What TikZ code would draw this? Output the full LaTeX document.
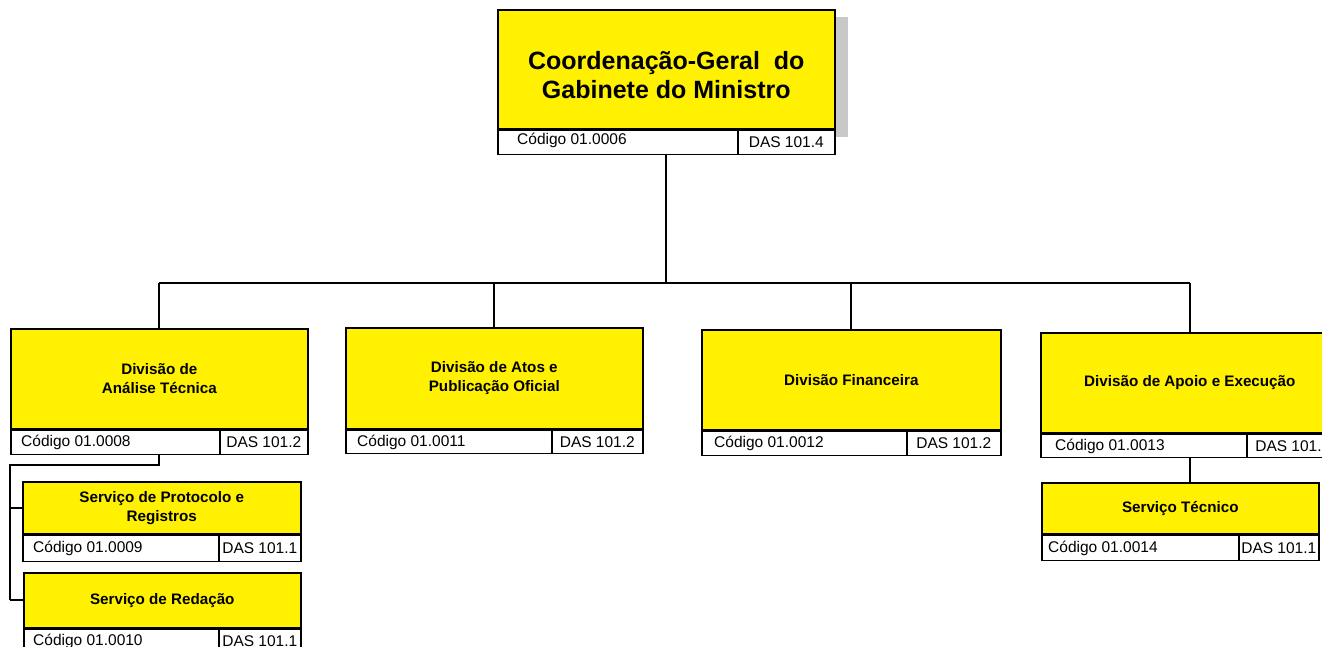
\documentclass[tikz,border=0pt]{standalone}
\usepackage{fontspec}
\setmainfont{Liberation Sans}
\definecolor{unityellow}{RGB}{255,241,0}
\definecolor{shadowgray}{RGB}{200,200,200}
\tikzset{
  unit/.style={draw, fill=unityellow, line width=1.6pt, anchor=north west,
    inner sep=0pt, align=center, font=\bfseries\fontsize{15.2}{19}\selectfont},
  coderow/.style={draw, fill=white, line width=1.6pt, anchor=north west, inner sep=0pt},
  codetext/.style={anchor=west, inner sep=0pt, font=\fontsize{15.5}{18}\selectfont},
  dascell/.style={draw, fill=white, line width=1.6pt, anchor=north east,
    inner sep=0pt, font=\fontsize{15.5}{18}\selectfont},
  wire/.style={draw, line width=2pt}
}
\begin{document}
\begin{tikzpicture}[x=1pt, y=-1pt]
  \useasboundingbox (0,0) rectangle (1322,647);
  % shadow of the top unit
  \fill[shadowgray] (812,17) rectangle (848,137);
  % top unit
  \node[unit, minimum width=337pt, minimum height=119pt] (cg) at (497,9) {};
  \node[align=center, inner sep=0pt, font=\bfseries\fontsize{25}{29}\selectfont]
    (cgtitle) at ([yshift=-6pt]cg.center) {Coordenação-Geral\ \ do\\Gabinete do Ministro};
  \node[coderow, minimum width=337pt, minimum height=24pt] (cgcod) at (cg.south west) {};
  \node[dascell, minimum width=97pt, minimum height=24pt] (cgdas) at (cgcod.north east) {DAS 101.4};
  \node[codetext] (cgtxt) at ([xshift=20pt, yshift=2pt]cgcod.west) {Código 01.0006};
  % divisions
  \node[unit, minimum width=297pt, minimum height=100pt] (ana) at (10,328)
    {Divisão de\\Análise Técnica};
  \node[coderow, minimum width=297pt, minimum height=24pt] (anacod) at (ana.south west) {};
  \node[dascell, minimum width=88pt, minimum height=24pt] (anadas) at (anacod.north east) {DAS 101.2};
  \node[codetext] (anatxt) at ([xshift=11pt]anacod.west) {Código 01.0008};

  \node[unit, minimum width=297pt, minimum height=101pt] (ato) at (345,327)
    {Divisão de Atos e\\Publicação Oficial};
  \node[coderow, minimum width=297pt, minimum height=23pt] (atocod) at (ato.south west) {};
  \node[dascell, minimum width=91pt, minimum height=23pt] (atodas) at (atocod.north east) {DAS 101.2};
  \node[codetext] (atotxt) at ([xshift=12pt]atocod.west) {Código 01.0011};

  \node[unit, minimum width=299pt, minimum height=100pt] (fin) at (701,329)
    {Divisão Financeira};
  \node[coderow, minimum width=299pt, minimum height=24pt] (fincod) at (fin.south west) {};
  \node[dascell, minimum width=94pt, minimum height=24pt] (findas) at (fincod.north east) {DAS 101.2};
  \node[codetext] (fintxt) at ([xshift=13pt]fincod.west) {Código 01.0012};

  \node[unit, minimum width=298pt, minimum height=100pt] (apo) at (1040,332)
    {Divisão de Apoio e Execução};
  \node[coderow, minimum width=298pt, minimum height=23pt] (apocod) at (apo.south west) {};
  \node[dascell, minimum width=92pt, minimum height=23pt] (apodas) at (apocod.north east) {DAS 101.2};
  \node[codetext] (apotxt) at ([xshift=15pt]apocod.west) {Código 01.0013};
  % services
  \node[unit, minimum width=278pt, minimum height=52pt] (spr) at (22,481)
    {Serviço de Protocolo e\\Registros};
  \node[coderow, minimum width=278pt, minimum height=26pt] (sprcod) at (spr.south west) {};
  \node[dascell, minimum width=82pt, minimum height=26pt] (sprdas) at (sprcod.north east) {DAS 101.1};
  \node[codetext] (sprtxt) at ([xshift=11pt]sprcod.west) {Código 01.0009};

  \node[unit, minimum width=277pt, minimum height=55pt] (sr) at (23,572)
    {Serviço de Redação};
  \node[coderow, minimum width=277pt, minimum height=24pt] (srcod) at (sr.south west) {};
  \node[dascell, minimum width=82pt, minimum height=24pt] (srdas) at (srcod.north east) {DAS 101.1};
  \node[codetext] (srtxt) at ([xshift=10pt]srcod.west) {Código 01.0010};

  \node[unit, minimum width=277pt, minimum height=51pt] (st) at (1041,482)
    {Serviço Técnico};
  \node[coderow, minimum width=277pt, minimum height=25pt] (stcod) at (st.south west) {};
  \node[dascell, minimum width=80pt, minimum height=25pt] (stdas) at (stcod.north east) {DAS 101.1};
  \node[codetext] (sttxt) at ([xshift=7pt]stcod.west) {Código 01.0014};
  % connectors
  \coordinate (bus) at (0,283);
  \coordinate (trunk) at (10,465);
  \path[wire] (cgcod.south) -- (cgcod.south |- bus);
  \path[wire] (ana.north |- bus) -- (apo.north |- bus);
  \path[wire] (ana.north) -- (ana.north |- bus);
  \path[wire] (ato.north) -- (ato.north |- bus);
  \path[wire] (fin.north) -- (fin.north |- bus);
  \path[wire] (apo.north) -- (apo.north |- bus);
  \path[wire] (anacod.south) |- (trunk) -- (trunk |- sr.west);
  \path[wire] (trunk |- spr.west) -- (spr.west);
  \path[wire] (trunk |- sr.west) -- (sr.west);
  \path[wire] (apocod.south) -- (apocod.south |- st.north);
\end{tikzpicture}
\end{document}
